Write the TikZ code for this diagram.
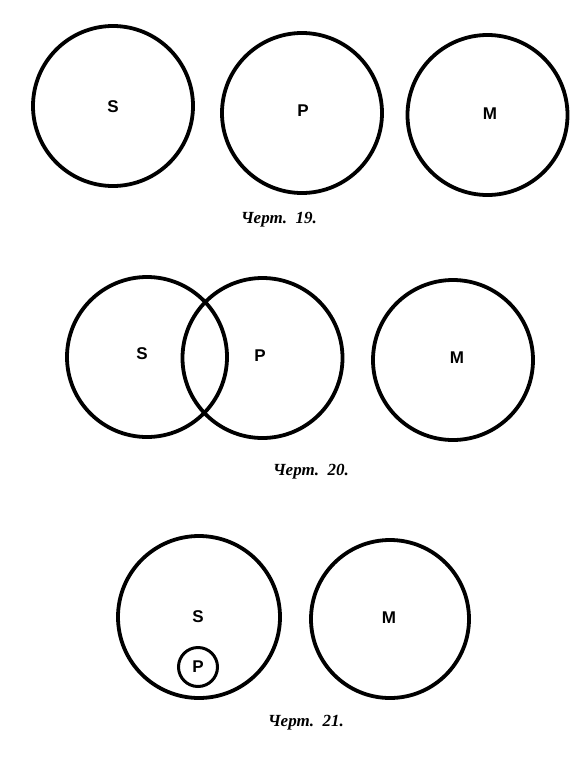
\documentclass[tikz,border=0pt]{standalone}
\usepackage{fontspec}
\setmainfont{Liberation Serif}
\newfontfamily\labfont{Liberation Sans}
\begin{document}
\begin{tikzpicture}[x=1pt,y=-1pt,
  ring/.style={circle,draw=black,line width=3.8pt,inner sep=0pt,minimum size=#1},
  ring/.default=160pt,
  lab/.style={font=\labfont\bfseries\fontsize{17}{17}\selectfont,inner sep=0pt},
  figcap/.style={font=\bfseries\itshape\fontsize{17}{17}\selectfont,inner sep=0pt}]
\useasboundingbox[fill=white] (0,0) rectangle (580,758);
% Fig. 19
\node[ring] (s1) at (113,106) {};
\node[ring] (p1) at (302,113) {};
\node[ring] (m1) at (487.5,115) {};
\node[lab] (ls1) at (113,107) {S};
\node[lab] (lp1) at (303,111) {P};
\node[lab] (lm1) at (490,114) {M};
\node[figcap] (c19) at (279,220) {Черт.\ \ 19.};
% Fig. 20
\node[ring] (s2) at (147,357) {};
\node[ring] (p2) at (262.5,358) {};
\node[ring] (m2) at (453,360) {};
\node[lab] (ls2) at (142,354) {S};
\node[lab] (lp2) at (260,356) {P};
\node[lab] (lm2) at (457,358) {M};
\node[figcap] (c20) at (311,472) {Черт.\ \ 20.};
% Fig. 21
\node[ring=162pt] (s3) at (199,617) {};
\node[ring=158pt] (m3) at (390,619) {};
\node[ring=39pt,line width=3pt] (p3) at (198,667) {};
\node[lab] (ls3) at (198,617) {S};
\node[lab] (lm3) at (389,618) {M};
\node[lab] (lp3) at (198,667) {P};
\node[figcap] (c21) at (306,723) {Черт.\ \ 21.};
\end{tikzpicture}
\end{document}
